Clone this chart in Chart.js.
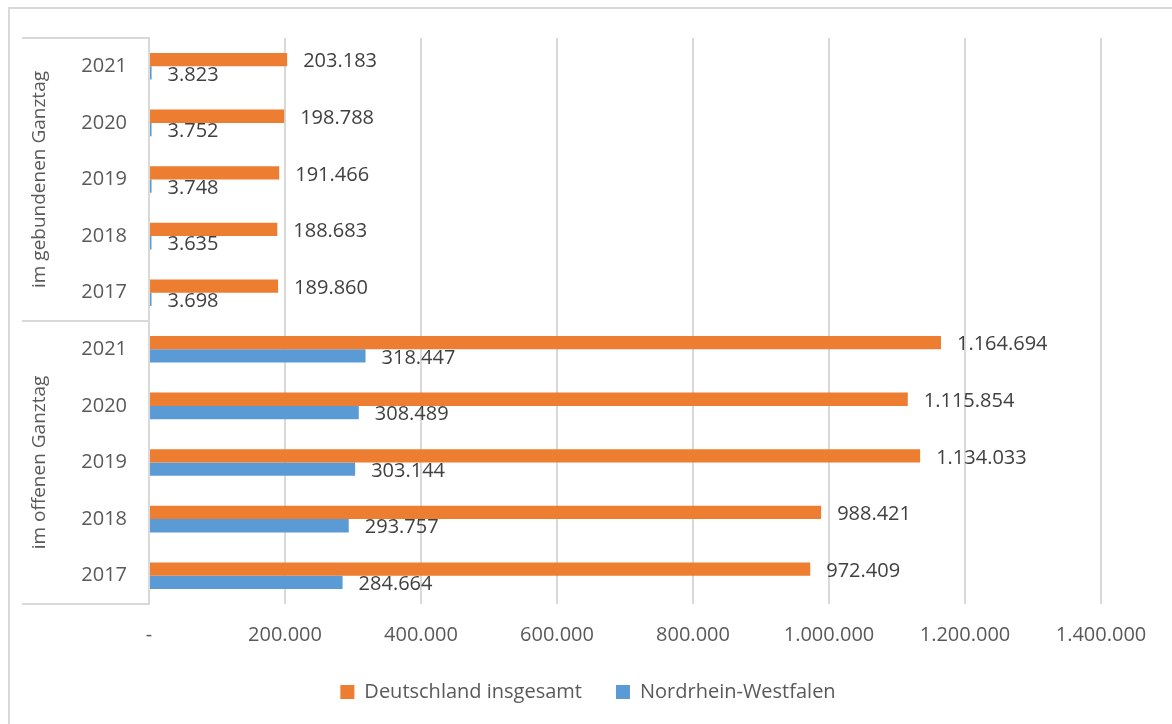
<!DOCTYPE html>
<html>
<head>
<meta charset="utf-8">
<script src="https://cdn.jsdelivr.net/npm/chart.js@4.4.0/dist/chart.umd.min.js"></script>
<style>
  html, body { margin: 0; padding: 0; background: #fff; }
  #wrap { width: 1172px; height: 724px; }
</style>
</head>
<body>
<div id="wrap"><canvas id="myChart" width="1172" height="724"></canvas></div>
<script>
const years = ['2021', '2020', '2019', '2018', '2017'];
const groups = ['im gebundenen Ganztag', 'im offenen Ganztag'];
// first five: gebundener Ganztag, last five: offener Ganztag
const deutschland = [203183, 198788, 191466, 188683, 189860, 1164694, 1115854, 1134033, 988421, 972409];
const nrw = [3823, 3752, 3748, 3635, 3698, 318447, 308489, 303144, 293757, 284664];
const seriesNames = ['Deutschland insgesamt', 'Nordrhein-Westfalen'];
const xMax = 1400000;
const xStep = 200000;

const FONT = "'Open Sans', 'Liberation Sans', sans-serif";

function fmt(v) {
  if (v === 0) return '-';
  return String(v).replace(/\B(?=(\d{3})+(?!\d))/g, '.');
}

// frame, group boxes, rotated group labels
const framePlugin = {
  id: 'frame',
  afterLayout(chart) {
    // center the legend on the whole canvas, a bit lower
    const lg = chart.legend;
    const dx = chart.width / 2 + 2 - (lg.left + lg.right) / 2;
    lg.left += dx;
    lg.right += dx;
    lg.top += 2;
    lg.bottom += 2;
  },
  beforeDraw(chart) {
    const ctx = chart.ctx;
    ctx.save();
    ctx.fillStyle = '#fff';
    ctx.fillRect(0, 0, chart.width, chart.height);
    ctx.strokeStyle = '#d9d9d9';
    ctx.lineWidth = 2;
    ctx.beginPath();
    ctx.moveTo(9, chart.height);
    ctx.lineTo(9, 8);
    ctx.lineTo(chart.width, 8);
    ctx.stroke();
    ctx.restore();
  },
  afterDraw(chart) {
    const ctx = chart.ctx;
    const y = chart.scales.y;
    const n = years.length;
    const mid = (y.getPixelForValue(n - 1) + y.getPixelForValue(n)) / 2;
    const bounds = [y.top, mid, y.bottom];
    ctx.save();
    ctx.strokeStyle = '#d9d9d9';
    ctx.lineWidth = 2;
    ctx.beginPath();
    bounds.forEach(b => {
      ctx.moveTo(22, b);
      ctx.lineTo(y.right, b);
    });
    ctx.stroke();
    ctx.fillStyle = '#595959';
    ctx.font = '19px ' + FONT;
    ctx.textAlign = 'center';
    ctx.textBaseline = 'middle';
    groups.forEach((g, i) => {
      const cy = (bounds[i] + bounds[i + 1]) / 2;
      ctx.save();
      ctx.translate(40, cy);
      ctx.rotate(-Math.PI / 2);
      ctx.fillText(g, 0, 0);
      ctx.restore();
    });
    ctx.restore();
  }
};

// value labels at bar ends
const valuePlugin = {
  id: 'values',
  afterDatasetsDraw(chart) {
    const ctx = chart.ctx;
    ctx.save();
    ctx.fillStyle = '#404040';
    ctx.font = '20px ' + FONT;
    ctx.textAlign = 'left';
    ctx.textBaseline = 'middle';
    chart.data.datasets.forEach((ds, di) => {
      chart.getDatasetMeta(di).data.forEach((bar, i) => {
        ctx.fillText(fmt(ds.data[i]), bar.x + 16, bar.y + 2);
      });
    });
    ctx.restore();
  }
};

const data = {
  labels: years.concat(years),
  datasets: [{
    label: seriesNames[0],
    backgroundColor: '#ED7D31',
    data: deutschland,
    categoryPercentage: 0.47,
    barPercentage: 1.0
  }, {
    label: seriesNames[1],
    backgroundColor: '#5B9BD5',
    data: nrw,
    categoryPercentage: 0.47,
    barPercentage: 1.0
  }]
};

const config = {
  type: 'bar',
  data: data,
  options: {
    indexAxis: 'y',
    responsive: false,
    animation: false,
    layout: { padding: { top: 38, right: 71, left: 0, bottom: 14 } },
    scales: {
      x: {
        min: 0,
        max: xMax,
        ticks: {
          stepSize: xStep,
          callback: v => fmt(v),
          color: '#595959',
          font: { family: FONT, size: 20 },
          padding: 19,
          maxRotation: 0
        },
        grid: { color: '#d9d9d9', lineWidth: 2, drawTicks: false },
        border: { display: false },
        afterFit(scale) { scale.height -= 20; }
      },
      y: {
        ticks: {
          color: '#595959',
          font: { family: FONT, size: 20 },
          padding: 22
        },
        grid: { display: false, drawTicks: false },
        border: { display: true, color: '#d9d9d9', width: 2 },
        afterFit(scale) { scale.width = 149; }
      }
    },
    plugins: {
      legend: {
        position: 'bottom',
        labels: {
          boxWidth: 14,
          boxHeight: 14,
          padding: 34,
          color: '#595959',
          font: { family: FONT, size: 20 }
        }
      },
      tooltip: { enabled: false }
    }
  },
  plugins: [framePlugin, valuePlugin]
};

const myChart = new Chart(document.getElementById('myChart'), config);
</script>
</body>
</html>
